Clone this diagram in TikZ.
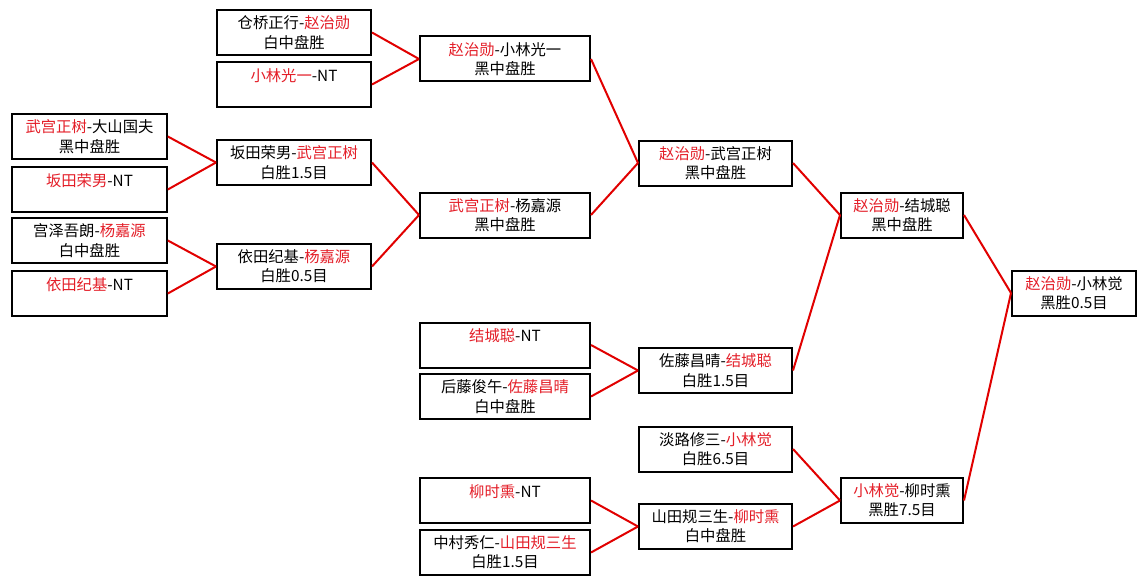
\documentclass[tikz,border=0pt]{standalone}
\usepackage{fontspec}
\setmainfont{Noto Sans CJK SC}
\definecolor{winred}{RGB}{228,30,40}
\definecolor{linkred}{RGB}{225,0,0}
\newcommand{\winner}[1]{\textcolor{winred}{#1}}

\begin{document}
\begin{tikzpicture}[x=0.75pt,y=-0.75pt,
        game/.style={draw,line width=1.5pt,fill=white,minimum height=33.75pt,
            inner sep=0,align=center,font=\fontsize{11.5}{14.5}\selectfont},
        r1/.style={game,minimum width=116pt},
        r2/.style={game,minimum width=115.5pt},
        r3/.style={game,minimum width=127.5pt},
        r4/.style={game,minimum width=114.75pt},
        r5/.style={game,minimum width=91.5pt},
        r6/.style={game,minimum width=93pt},
        link/.style={line width=1.5pt,color=linkred},
        ]
        \useasboundingbox (0,0) rectangle (1146,585);

        % first round
        \node[r1] (a1) at (89.5,136.5) {\winner{武宫正树}-大山国夫\\黑中盘胜};
        \node[r1] (a2) at (89.5,189.5) {\winner{坂田荣男}-NT\\~};
        \node[r1] (a3) at (89.5,240.5) {宫泽吾朗-\winner{杨嘉源}\\白中盘胜};
        \node[r1] (a4) at (89.5,293.5) {\winner{依田纪基}-NT\\~};

        % second round
        \node[r2] (b1) at (294,32.5) {仓桥正行-\winner{赵治勋}\\白中盘胜};
        \node[r2] (b2) at (294,84.5) {\winner{小林光一}-NT\\~};
        \node[r2] (b3) at (294,162.5) {坂田荣男-\winner{武宫正树}\\白胜1.5目};
        \node[r2] (b4) at (294,266.5) {依田纪基-\winner{杨嘉源}\\白胜0.5目};

        % third round
        \node[r3] (c1) at (505,59) {\winner{赵治勋}-小林光一\\黑中盘胜};
        \node[r3] (c2) at (505,215) {\winner{武宫正树}-杨嘉源\\黑中盘胜};
        \node[r3] (c3) at (505,345) {\winner{结城聪}-NT\\~};
        \node[r3] (c4) at (505,396.5) {后藤俊午-\winner{佐藤昌晴}\\白中盘胜};
        \node[r3] (c5) at (505,500.5) {\winner{柳时熏}-NT\\~};
        \node[r3] (c6) at (505,552.5) {中村秀仁-\winner{山田规三生}\\白胜1.5目};

        % fourth round
        \node[r4] (d1) at (715.5,163) {\winner{赵治勋}-武宫正树\\黑中盘胜};
        \node[r4] (d2) at (715.5,370.5) {佐藤昌晴-\winner{结城聪}\\白胜1.5目};
        \node[r4] (d3) at (715.5,449) {淡路修三-\winner{小林觉}\\白胜6.5目};
        \node[r4] (d4) at (715.5,526.5) {山田规三生-\winner{柳时熏}\\白中盘胜};

        % semifinal and final
        \node[r5] (e1) at (902,215) {\winner{赵治勋}-结城聪\\黑中盘胜};
        \node[r5] (e2) at (902,500.5) {\winner{小林觉}-柳时熏\\黑胜7.5目};
        \node[r6] (f) at (1074,293) {\winner{赵治勋}-小林觉\\黑胜0.5目};

        \path (a1.east) edge[link] (b3.west)
              (a2.east) edge[link] (b3.west)
              (a3.east) edge[link] (b4.west)
              (a4.east) edge[link] (b4.west);
        \path (b1.east) edge[link] (c1.west)
              (b2.east) edge[link] (c1.west)
              (b3.east) edge[link] (c2.west)
              (b4.east) edge[link] (c2.west);
        \path (c1.east) edge[link] (d1.west)
              (c2.east) edge[link] (d1.west)
              (c3.east) edge[link] (d2.west)
              (c4.east) edge[link] (d2.west)
              (c5.east) edge[link] (d4.west)
              (c6.east) edge[link] (d4.west);
        \path (d1.east) edge[link] (e1.west)
              (d2.east) edge[link] (e1.west)
              (d3.east) edge[link] (e2.west)
              (d4.east) edge[link] (e2.west);
        \path (e1.east) edge[link] (f.west)
              (e2.east) edge[link] (f.west);
\end{tikzpicture}
\end{document}
